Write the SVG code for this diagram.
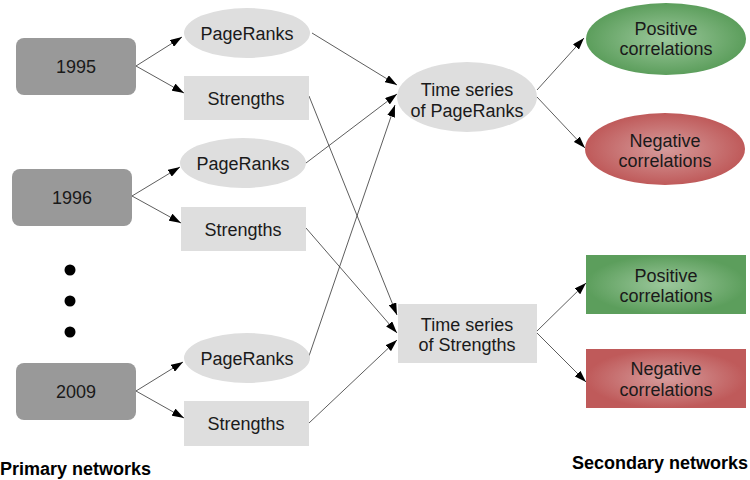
<svg xmlns="http://www.w3.org/2000/svg" width="750" height="480" viewBox="0 0 750 480">
<defs>
<style>
.year{fill:#999999}
.lg{fill:#dedede}
.t{font-family:"Liberation Sans",Arial,sans-serif;font-size:18px;fill:#1a1a1a;text-anchor:middle}
.b{font-family:"Liberation Sans",Arial,sans-serif;font-size:18px;font-weight:bold;fill:#000}
.c{stroke:#333;stroke-width:0.8;fill:none;marker-end:url(#ah)}
</style>
<marker id="ah" viewBox="0 0 12 8" refX="12" refY="4" markerWidth="12" markerHeight="8" markerUnits="userSpaceOnUse" orient="auto">
<path d="M0,0 L12,4 L0,8 z" fill="#000"/>
</marker>
<radialGradient id="gG" cx="50%" cy="50%" r="50%">
<stop offset="0" stop-color="#9cc89c"/>
<stop offset="1" stop-color="#5c9e5c"/>
</radialGradient>
<radialGradient id="gR" cx="50%" cy="50%" r="50%">
<stop offset="0" stop-color="#d69c9c"/>
<stop offset="1" stop-color="#bf5a5a"/>
</radialGradient>
</defs>

<g id="connectors">
<line class="c" x1="136" y1="66" x2="182" y2="37"/>
<line class="c" x1="136" y1="66" x2="184" y2="93"/>
<line class="c" x1="132" y1="196" x2="180" y2="167"/>
<line class="c" x1="132" y1="196" x2="181" y2="223"/>
<line class="c" x1="136" y1="391" x2="183" y2="362"/>
<line class="c" x1="136" y1="391" x2="184" y2="418"/>
<line class="c" x1="312" y1="33" x2="397" y2="85"/>
<line class="c" x1="306" y1="163" x2="397" y2="94"/>
<line class="c" x1="309" y1="356" x2="395" y2="105"/>
<line class="c" x1="309" y1="96" x2="397" y2="315"/>
<line class="c" x1="306" y1="228" x2="397" y2="333"/>
<line class="c" x1="309" y1="423" x2="397" y2="340"/>
<line class="c" x1="537" y1="90" x2="584" y2="38"/>
<line class="c" x1="537" y1="97" x2="585" y2="148"/>
<line class="c" x1="537" y1="331" x2="586" y2="283"/>
<line class="c" x1="537" y1="333" x2="586" y2="382"/>
</g>

<g id="y1995"><rect class="year" x="16" y="38" width="120" height="57" rx="8"/><text class="t" x="76" y="73">1995</text></g>
<g id="pr1995"><ellipse class="lg" cx="247" cy="33" rx="63" ry="25"/><text class="t" x="247" y="40">PageRanks</text></g>
<g id="st1995"><rect class="lg" x="184" y="76" width="125" height="44"/><text class="t" x="246" y="105">Strengths</text></g>

<g id="y1996"><rect class="year" x="12" y="169" width="120" height="57" rx="8"/><text class="t" x="72" y="204">1996</text></g>
<g id="pr1996"><ellipse class="lg" cx="243" cy="163" rx="63" ry="25"/><text class="t" x="243" y="170">PageRanks</text></g>
<g id="st1996"><rect class="lg" x="181" y="207" width="125" height="44"/><text class="t" x="243" y="236">Strengths</text></g>

<g id="dots"><circle cx="70" cy="270" r="5.5"/><circle cx="70" cy="301" r="5.5"/><circle cx="70" cy="332" r="5.5"/></g>

<g id="y2009"><rect class="year" x="16" y="363" width="120" height="57" rx="8"/><text class="t" x="76" y="398">2009</text></g>
<g id="pr2009"><ellipse class="lg" cx="247" cy="358" rx="63" ry="25"/><text class="t" x="247" y="365">PageRanks</text></g>
<g id="st2009"><rect class="lg" x="184" y="401" width="125" height="45"/><text class="t" x="246" y="430">Strengths</text></g>

<g id="tsPR"><ellipse class="lg" cx="467" cy="97" rx="70" ry="35"/><text class="t" x="467" y="96">Time series</text><text class="t" x="467" y="117">of PageRanks</text></g>
<g id="tsST"><rect class="lg" x="398" y="304" width="139" height="59"/><text class="t" x="467" y="331">Time series</text><text class="t" x="467" y="351">of Strengths</text></g>

<g id="posE"><ellipse fill="url(#gG)" cx="666" cy="39" rx="80" ry="36"/><text class="t" x="666" y="35">Positive</text><text class="t" x="666" y="55">correlations</text></g>
<g id="negE"><ellipse fill="url(#gR)" cx="665" cy="149" rx="80" ry="36"/><text class="t" x="665" y="147">Negative</text><text class="t" x="665" y="167">correlations</text></g>
<g id="posR"><rect fill="url(#gG)" x="586" y="255" width="160" height="59"/><text class="t" x="666" y="282">Positive</text><text class="t" x="666" y="302">correlations</text></g>
<g id="negR"><rect fill="url(#gR)" x="586" y="349" width="160" height="59"/><text class="t" x="666" y="375">Negative</text><text class="t" x="666" y="396">correlations</text></g>

<text class="b" x="0" y="475">Primary networks</text>
<text class="b" x="748" y="469" text-anchor="end">Secondary networks</text>
</svg>
